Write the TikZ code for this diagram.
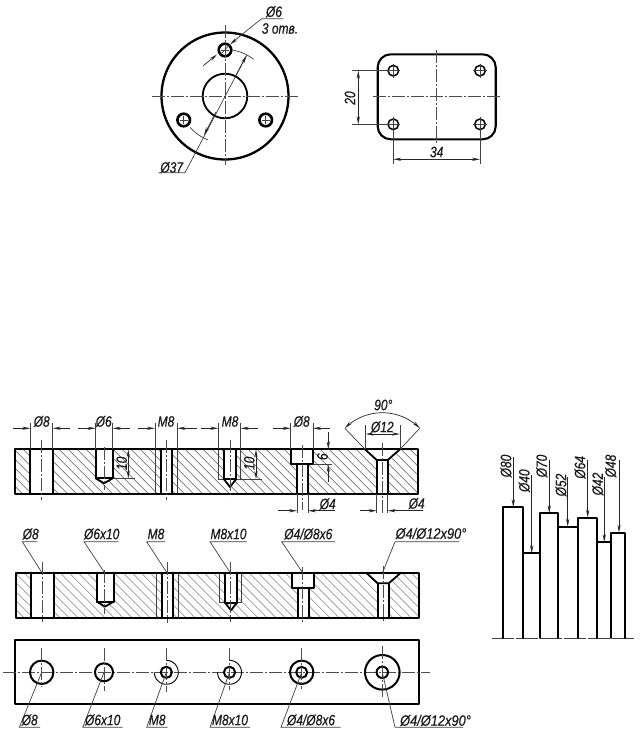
\documentclass[tikz,border=0pt]{standalone}
\usepackage{fontspec}
\usetikzlibrary{arrows.meta}
\newfontfamily\gostfont[FakeStretch=0.8,FakeBold=0.4]{Liberation Sans}
\tikzset{
  thk/.style={line width=1.8pt,black,line cap=round,line join=round},
  thn/.style={line width=0.7pt,black!75},
  ctr/.style={line width=0.7pt,black!70,dash pattern=on 13pt off 2pt on 2pt off 2pt},
  lbl/.style={inner sep=0pt,font=\gostfont\itshape\fontsize{15}{15}\selectfont,text=black!90},
  dim/.style={line width=0.7pt,black!85,-{Stealth[length=8pt,width=3.2pt]}},
  dimb/.style={line width=0.7pt,black!85,{Stealth[length=8pt,width=3.2pt]}-{Stealth[length=8pt,width=3.2pt]}},
  hatch/.style={line width=0.45pt,black!65}
}
% arc given in screen angles (counter-clockwise, 0 = right): [style]{cx}{cy}{r}{from}{to}
\newcommand{\parc}[6][thn]{%
  \draw[#1] plot[smooth,domain=#5:#6,samples=24] ({#2+#4*cos(\x)},{#3-#4*sin(\x)});}
\newcommand{\barsection}{%
  \begin{scope}
    \clip (15,449.3) rectangle (418.3,494.3);
    \foreach \h in {-40,-31,...,420} \draw[hatch] (\h,449.3) -- (\h+45,494.3);
  \end{scope}
  % white hole interiors
  \fill[white] (30.3,449.3) rectangle (52.7,494.3);
  \fill[white] (95.7,449.3) -- (112.7,449.3) -- (112.7,478.3) -- (104,483.3) -- (95.7,478.3) -- cycle;
  \fill[white] (161,449.3) rectangle (171.7,494.3);
  \fill[white] (224,449.3) -- (236,449.3) -- (236,479.3) -- (230,487) -- (224,479.3) -- cycle;
  \fill[white] (290.7,449.3) rectangle (313,464.3);
  \fill[white] (297,464.3) rectangle (308,494.3);
  \fill[white] (365,449.3) -- (400,449.3) -- (387.7,460) -- (387.7,494.3) -- (376.7,494.3) -- (376.7,460) -- cycle;
  % thread thin lines
  \draw[thn] (155,449.3) -- (155,494.3) (177.3,449.3) -- (177.3,494.3);
  \draw[thn] (218.3,449.3) -- (218.3,479.3) -- (240.7,479.3) -- (240.7,449.3);
  % outlines
  \draw[thk] (15,449.3) rectangle (418.3,494.3);
  \draw[thk] (30.3,449.3) -- (30.3,494.3) (52.7,449.3) -- (52.7,494.3);
  \draw[thk] (95.7,449.3) -- (95.7,478.3) -- (112.7,478.3) -- (112.7,449.3);
  \draw[thk] (95.7,478.3) -- (104,483.3) -- (112.7,478.3);
  \draw[thk] (161,449.3) -- (161,494.3) (171.7,449.3) -- (171.7,494.3);
  \draw[thk] (224,449.3) -- (224,479.3) -- (230,487) -- (236,479.3) -- (236,449.3);
  \draw[thk] (224,479.3) -- (236,479.3);
  \draw[thk] (290.7,449.3) -- (290.7,464.3) -- (313,464.3) -- (313,449.3);
  \draw[thk] (297,464.3) -- (297,494.3) (308,464.3) -- (308,494.3);
  \draw[thk] (365,449.3) -- (376.7,460) -- (387.7,460) -- (400,449.3);
  \draw[thk] (376.7,460) -- (376.7,494.3) (387.7,460) -- (387.7,494.3);
}
\begin{document}
\begin{tikzpicture}[x=1pt,y=-1pt]
\useasboundingbox (0,0) rectangle (641,739);
\fill[white] (0,0) rectangle (641,739);

%% ---------- flange, front view
\draw[thk,line width=2.3pt] (225,96) circle[radius=63.5];
\draw[thk] (225,96) circle[radius=22.3];
\foreach \cx/\cy in {225/50,183.7/120,265.7/120}{
  \draw[thk,line width=2.6pt] (\cx,\cy) circle[radius=6.3];
  \draw[thn] (\cx-4,\cy) -- (\cx+4,\cy) (\cx,\cy-4) -- (\cx,\cy+4);
}
\draw[ctr] (152,96) -- (298,96);
\draw[ctr] (225,25) -- (225,165);
\parc{225}{96}{46.5}{80}{52}
\parc{225}{96}{47}{222}{249}
% dia 6
\node[lbl] (d6) at (274,11.7) {Ø6};
\node[lbl] (h3) at (280,28.5) {3 отв.};
\draw[thn] (283,18.7) -- (261.7,18.7) -- (240,36);
\draw[dim] (240,36) -- (230,44.5);
\draw[thn] (230,44.5) -- (220,55);
\draw[dim] (203.3,65.7) -- (217,54.5);
% dia 37
\node[lbl] (d37) at (171.7,167.5) {Ø37};
\draw[thn] (158.3,172.7) -- (185,172.7) -- (246.6,55.4);
\draw[dim] (235,77) -- (246.6,55.4);
\draw[dim] (216,112) -- (204,135);

%% ---------- plate, plan view
\draw[thk,line width=2.1pt,rounded corners=13pt] (377.7,54.3) rectangle (495.7,139.3);
\foreach \cx/\cy in {393.3/70.7,480/70.7,393.3/124.3,480/124.3}{
  \draw[thk,line width=1.5pt] (\cx,\cy) circle[radius=5.3];
  \draw[thn] (\cx-7,\cy) -- (\cx+7,\cy) (\cx,\cy-7) -- (\cx,\cy+7);
}
\draw[ctr] (373,96.7) -- (500,96.7);
\draw[ctr] (436,50) -- (436,145);
\draw[thn] (352.3,70.7) -- (388,70.7) (352.3,124.3) -- (388,124.3);
\draw[dimb] (358.3,70.7) -- (358.3,124.3);
\node[lbl,rotate=90] (d20) at (350,98) {20};
\draw[thn] (393.3,130) -- (393.3,164) (480,130) -- (480,164);
\draw[dimb] (393.3,159.3) -- (480,159.3);
\node[lbl] (d34) at (436.7,152) {34};

%% ---------- bar, section with dimensions
\barsection
\foreach \a/\ya/\yb in {41.5/440/500,166.3/440/500,230/440/497,302/445/510,382.5/443/515,104/446.7/490}
  \draw[ctr] (\a,\ya) -- (\a,\yb);
% horizontal diameter dimensions above the bar
\foreach \xa/\xb/\xl/\xr/\tx/\txt in {30.3/52.7/13/70/41.7/Ø8,95.7/112.7/77.7/130/103.7/Ø6,155/177.3/137.7/196.7/166/M8,218.3/240.7/201/258/230/M8,290.7/313/273/330/301.7/Ø8}{
  \draw[thn] (\xa,422.7) -- (\xa,449.3) (\xb,422.7) -- (\xb,449.3);
  \draw[dim] (\xl,428.3) -- (\xa,428.3);
  \draw[dim] (\xr,428.3) -- (\xb,428.3);
  \node[lbl] at (\tx,421.5) {\txt};
}
% depth 10 (two), depth 6
\draw[thn] (113,478.3) -- (135,478.3);
\draw[dimb] (128.3,449.3) -- (128.3,478.3);
\node[lbl,rotate=90] (d10a) at (121.7,463.3) {10};
\draw[thn] (241,479) -- (261.7,479);
\draw[dimb] (256,449.3) -- (256,479);
\node[lbl,rotate=90] (d10b) at (249.3,463.3) {10};
\draw[thn] (313,464.3) -- (332,464.3);
\draw[dim] (328.3,431.7) -- (328.3,449.3);
\draw[dim] (328.3,482) -- (328.3,464.3);
\node[lbl,rotate=90] (d6b) at (322.5,456.7) {6};
% 90 deg + dia 12
\draw[thn] (365,449.3) -- (344.8,428.2) (400,449.3) -- (419.8,428.2);
\parc[dimb]{382.3}{465.7}{53}{135}{45}
\node[lbl] (d90) at (383.3,405) {90°};
\draw[thn] (365.7,425) -- (365.7,449.3) (400,425) -- (400,449.3);
\draw[dimb] (365.7,434) -- (400,434);
\node[lbl] (d12) at (382.3,427) {Ø12};
% dia 4 (two) below the bar
\draw[thn] (297,494.3) -- (297,513.3) (308,494.3) -- (308,513.3);
\draw[dim] (278.3,510.7) -- (297,510.7);
\draw[dim] (335,510.7) -- (308,510.7);
\node[lbl] (d4a) at (327.7,504) {Ø4};
\draw[thn] (376.7,494.3) -- (376.7,513.3) (387.7,494.3) -- (387.7,513.3);
\draw[dim] (360,510.7) -- (376.7,510.7);
\draw[dim] (423.3,510.7) -- (387.7,510.7);
\node[lbl] (d4b) at (416.7,503.5) {Ø4};

%% ---------- bar, section with leaders
\begin{scope}[shift={(1,123.3)}]
  \barsection
\end{scope}
\foreach \a/\ya/\yb in {42/561.7/621.7,104.7/570/614,167/561.7/623,230.5/562/622,302.5/566.7/621.7,383/566/621.7}
  \draw[ctr] (\a,\ya) -- (\a,\yb);
\foreach \ua/\ub/\tipx/\tx/\txt in {22.3/37.3/41.7/30.7/Ø8,84/118.3/104.3/101.7/Ø6x10,146.7/165/166.7/156/M8,210/246.7/230/228.5/M8x10,281.7/335/302.3/308.3/{Ø4/Ø8x6}}{
  \draw[thn] (\ub,541.7) -- (\ua,541.7) -- (\tipx,572.3);
  \node[lbl] at (\tx,534) {\txt};
}
\draw[thn] (459.3,541.7) -- (395,541.7) -- (382.7,572.3);
\node[lbl,xscale=1.07] (la6) at (431,533.5) {Ø4/Ø12x90°};

%% ---------- bar, plan view
\draw[thk,line width=2pt] (15,640) rectangle (419,704.3);
\draw[ctr] (3.3,672.3) -- (430,672.3);
\draw[thk,line width=2pt] (41.7,672.3) circle[radius=11.7];
\draw[thk,line width=2pt] (104,672.3) circle[radius=9];
\draw[thk,line width=2pt] (166.3,672.3) circle[radius=5.6];
\parc[thn,line width=0.9pt,black]{166.3}{672.3}{12}{90}{-180}
\draw[thk,line width=2pt] (229.5,672.3) circle[radius=5.6];
\parc[thn,line width=0.9pt,black]{229.5}{672.3}{12}{90}{-180}
\draw[thk,line width=2pt] (301.7,672.3) circle[radius=11.7];
\draw[thk,line width=2pt] (301.7,672.3) circle[radius=5.5];
\draw[thk,line width=2pt] (382.3,672.3) circle[radius=17.3];
\draw[thk,line width=2pt] (382.3,672.3) circle[radius=5.7];
\foreach \a/\ya/\yb in {41.7/648.3/687.3,104/648.3/690.7,166.3/648.3/691.7,229.5/648.3/690,301.7/648/689,382.3/646/698}
  \draw[ctr] (\a,\ya) -- (\a,\yb);
\foreach \ua/\ub/\tipx/\tx/\txt in {19.3/40/41.7/29.7/Ø8,82.7/122.7/104/102.7/Ø6x10,146.7/167.7/166.3/157.2/M8,210/250/229.5/230/M8x10,281/340.7/301.7/311/{Ø4/Ø8x6}}{
  \draw[thn] (\ub,727.3) -- (\ua,727.3) -- (\tipx,672.3);
  \node[lbl] at (\tx,720) {\txt};
}
\draw[thn] (463,727.3) -- (395,727.3) -- (382.3,672.3);
\node[lbl,xscale=1.07] (lb6) at (435.5,720.5) {Ø4/Ø12x90°};

%% ---------- stepped profile
\draw[thn,dash pattern=on 22pt off 2pt] (491.7,638.3) -- (635,638.3);
\draw[thk] (502.7,638) -- (502.7,507.3) -- (523.3,507.3) -- (523.3,638);
\draw[thk] (523.3,553.3) -- (540,553.3);
\draw[thk] (540,638) -- (540,513.3) -- (557.7,513.3) -- (557.7,638);
\draw[thk] (557.7,526.7) -- (577.7,526.7);
\draw[thk] (577.7,638) -- (577.7,517.7) -- (597.3,517.7) -- (597.3,638);
\draw[thk] (597.3,542.3) -- (611,542.3);
\draw[thk] (611,638) -- (611,532.7) -- (625.3,532.7) -- (625.3,638);
\foreach \xa/\ya/\yb/\tx/\ty/\txt in {513.3/456.7/507.3/506/466/Ø80,531.7/475/553.3/524.3/480.7/Ø40,549.3/460/513.3/541.7/466/Ø70,567.7/477.3/526.7/561/485/Ø52,587.7/460/517.7/580/467.3/Ø64,604.3/476.7/542.3/597.7/484/Ø42,619/460/532.7/610.7/466/Ø48}{
  \draw[dim,line width=0.9pt] (\xa,\ya) -- (\xa,\yb);
  \node[lbl,rotate=90] at (\tx,\ty) {\txt};
}
\end{tikzpicture}
\end{document}
